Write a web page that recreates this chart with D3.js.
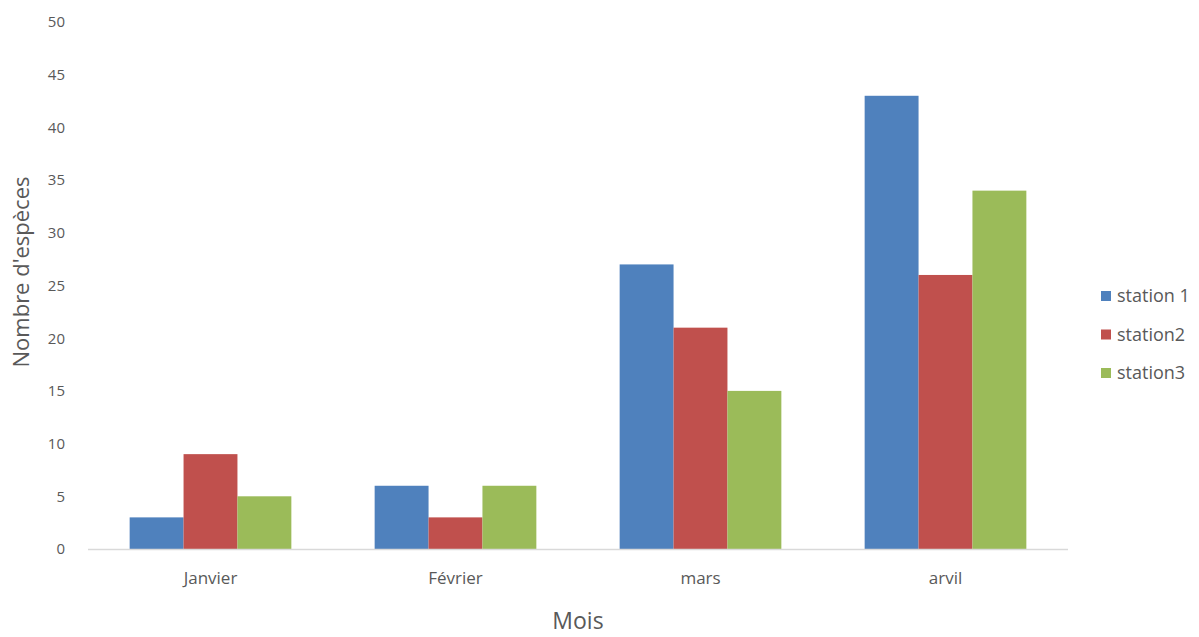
<!DOCTYPE html>
<html>
<head>
<meta charset="utf-8">
<script src="https://cdn.jsdelivr.net/npm/d3@7"></script>
<style>
  body { margin: 0; background: #fff; }
  svg { display: block; font-family: "Open Sans", "Noto Sans", sans-serif; }
</style>
</head>
<body>
<svg id="chart" width="1199" height="637"></svg>
<script>
// Monthly species counts per station
const months = ["Janvier", "Février", "mars", "arvil"];
const stations = ["station 1", "station2", "station3"];
const station1 = [3, 6, 27, 43];
const station2 = [9, 3, 21, 26];
const station3 = [5, 6, 15, 34];
const yTicks = [0, 5, 10, 15, 20, 25, 30, 35, 40, 45, 50];
const colors = ["#4F81BD", "#C0504D", "#9BBB59"];

const series = [station1, station2, station3];
const fontFamily = '"Open Sans", "Noto Sans", sans-serif';

const svg = d3.select("#chart");
const plotLeft = 88, plotRight = 1068, plotTop = 22, plotBottom = 549;

const x = d3.scaleBand().domain(months).range([plotLeft, plotRight]).paddingInner(0.34).paddingOuter(0.17);
const xs = d3.scaleBand().domain(stations).range([0, x.bandwidth()]);
const y = d3.scaleLinear().domain([0, 50]).range([plotBottom, plotTop]);

// Bars
months.forEach((m, i) => {
  const g = svg.append("g").attr("transform", `translate(${x(m)},0)`);
  g.selectAll("rect")
    .data(stations.map((s, k) => ({ s, v: series[k][i], c: colors[k] })))
    .join("rect")
    .attr("x", d => xs(d.s))
    .attr("width", xs.bandwidth())
    .attr("y", d => y(d.v))
    .attr("height", d => y(0) - y(d.v))
    .attr("fill", d => d.c);
});

// Y axis (labels only)
const yAxis = d3.axisLeft(y).tickValues(yTicks).tickSize(0).tickPadding(0);
const ya = svg.append("g").attr("transform", "translate(65,0)").call(yAxis)
  .attr("font-family", fontFamily).attr("font-size", 15);
ya.select(".domain").remove();
ya.selectAll("text").attr("fill", "#595959");

// X axis
const xAxis = d3.axisBottom(x).tickSize(0).tickPadding(23);
const xa = svg.append("g").attr("transform", `translate(0,${plotBottom})`).call(xAxis)
  .attr("font-family", fontFamily).attr("font-size", 17);
xa.select(".domain").remove();
xa.selectAll("text").attr("fill", "#595959");
svg.append("line")
  .attr("x1", plotLeft).attr("x2", plotRight)
  .attr("y1", plotBottom + 0.5).attr("y2", plotBottom + 0.5)
  .attr("stroke", "#D9D9D9").attr("stroke-width", 1.5);

// Axis titles
svg.append("text")
  .attr("x", (plotLeft + plotRight) / 2).attr("y", 629)
  .attr("text-anchor", "middle")
  .attr("fill", "#595959").style("font-size", "23px")
  .text("Mois");
svg.append("text")
  .attr("transform", "translate(29,272) rotate(-90)")
  .attr("text-anchor", "middle")
  .attr("fill", "#595959").style("font-size", "22px")
  .text("Nombre d'espèces");

// Legend
const legend = svg.append("g").attr("transform", "translate(1101,296)");
stations.forEach((s, k) => {
  const row = legend.append("g").attr("transform", `translate(0,${k * 38.5})`);
  row.append("rect").attr("x", 0).attr("y", -5).attr("width", 10).attr("height", 10).attr("fill", colors[k]);
  row.append("text").attr("x", 16).attr("y", 0).attr("dy", "0.35em")
    .attr("fill", "#595959").style("font-size", "18px").text(s);
});
</script>
</body>
</html>
